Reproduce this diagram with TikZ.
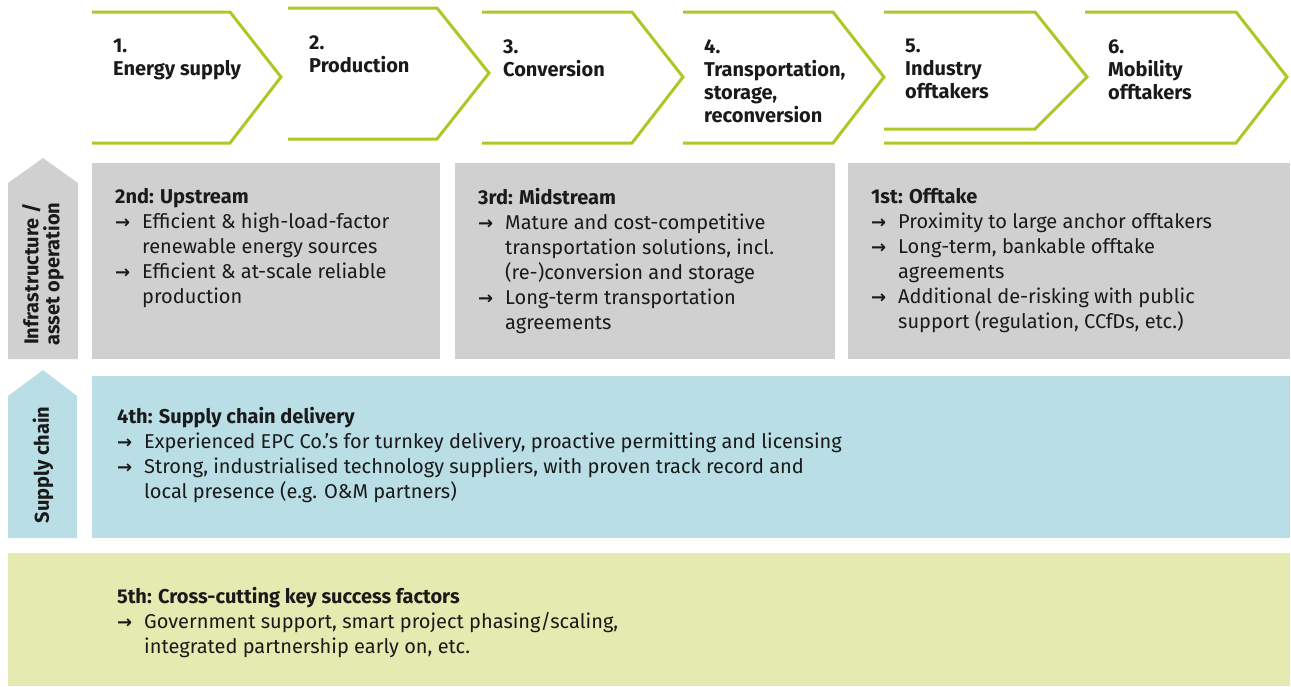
\documentclass[tikz,border=0pt]{standalone}
\usepackage{fontspec}
\setmainfont{Fira Sans}
\newfontfamily\arrowfont{DejaVu Sans}
\usepackage{tikz}
\definecolor{lime}{RGB}{172,200,38}
\definecolor{lightgrey}{RGB}{208,208,208}
\definecolor{lightblue}{RGB}{185,222,230}
\definecolor{palegreen}{RGB}{229,235,176}
\definecolor{ink}{RGB}{26,26,26}
\usetikzlibrary{positioning}
\tikzstyle{chevron} = [draw=lime, line width=3pt, line join=miter]
\tikzstyle{stage} = [anchor=north west, align=left, inner sep=0pt, text=ink, font=\bfseries\fontsize{20}{23}\selectfont]
\tikzstyle{block} = [rectangle, anchor=north west, inner sep=0pt, outer sep=0pt]
\tikzstyle{body} = [anchor=north west, align=left, inner sep=0pt, text=ink, font=\fontsize{20}{25}\selectfont]
\tikzstyle{side} = [rotate=90, align=center, inner sep=0pt, text=ink, font=\bfseries\fontsize{20}{21}\selectfont]
\newcommand{\arr}{\makebox[27pt][l]{\arrowfont\bfseries\fontsize{18}{18}\selectfont →}}
\newcommand{\ind}{\hspace*{27pt}}

\begin{document}
\begin{tikzpicture}[x=1pt, y=-1pt]
    \useasboundingbox (0,0) rectangle (1291,686);

    % Value chain steps
    \draw [chevron] (92,12) -- (230,12) -- (281,77) -- (230,143) -- (92,143);
    \draw [chevron] (288,8) -- (437,8) -- (489,73) -- (437,139) -- (288,139);
    \draw [chevron] (482,12) -- (632,12) -- (683,77) -- (632,143) -- (482,143);
    \draw [chevron] (683,12) -- (833,12) -- (884,77) -- (833,143) -- (683,143);
    \draw [chevron] (884,12) -- (1035,12) -- (1087,77) -- (1035,129) -- (884,129);
    \draw [chevron] (1085,12) -- (1236,12) -- (1287,77) -- (1236,143) -- (884,143);

    \node [stage] (energy) at (113,39) {1.\\Energy supply};
    \node [stage] (production) at (309,35) {2.\\Production};
    \node [stage] (conversion) at (503,39) {3.\\Conversion};
    \node [stage] (transport) at (704,39) {4.\\Transportation,\\storage,\\reconversion};
    \node [stage] (industry) at (905,39) {5.\\Industry\\offtakers};
    \node [stage] (mobility) at (1108,39) {6.\\Mobility\\offtakers};

    % Side tabs
    \fill [lightgrey] (8,359) -- (8,183) -- (43,158) -- (78,183) -- (78,359) -- cycle;
    \fill [lightblue] (8,538) -- (8,396) -- (43,370) -- (77,396) -- (77,538) -- cycle;
    \node [side] (infra) at (43,274) {Infrastructure /\\asset operation};
    \node [side] (chain) at (43,465) {Supply chain};

    % Place the blocks
    \node [block, fill=lightgrey, minimum width=348, minimum height=196] (upstream) at (92,163) {};
    \node [block, fill=lightgrey, minimum width=380, minimum height=196] (midstream) at (455,163) {};
    \node [block, fill=lightgrey, minimum width=442, minimum height=196] (offtake) at (848,163) {};
    \node [block, fill=lightblue, minimum width=1198, minimum height=162] (delivery) at (92,376) {};
    \node [block, fill=palegreen, minimum width=1282, minimum height=133] (factors) at (8,553) {};

    % Fill in the texts
    \node [body] (upstreamtxt) at (115,188) {\textbf{2nd: Upstream}\\
        \arr Efficient \& high-load-factor\\
        \ind renewable energy sources\\
        \arr Efficient \& at-scale reliable\\
        \ind production};
    \node [body] (midstreamtxt) at (478,188) {\textbf{3rd: Midstream}\\
        \arr Mature and cost-competitive\\
        \ind transportation solutions, incl.\\
        \ind (re-)conversion and storage\\
        \arr Long-term transportation\\
        \ind agreements};
    \node [body] (offtaketxt) at (871,188) {\textbf{1st: Offtake}\\
        \arr Proximity to large anchor offtakers\\
        \arr Long-term, bankable offtake\\
        \ind agreements\\
        \arr Additional de-risking with public\\
        \ind support (regulation, CCfDs, etc.)};
    \node [body] (deliverytxt) at (117,407) {\textbf{4th: Supply chain delivery}\\
        \arr Experienced EPC Co.’s for turnkey delivery, proactive permitting and licensing\\
        \arr Strong, industrialised technology suppliers, with proven track record and\\
        \ind local presence (e.g. O\&M partners)};
    \node [body] (factorstxt) at (117,587) {\textbf{5th: Cross-cutting key success factors}\\
        \arr Government support, smart project phasing/scaling,\\
        \ind integrated partnership early on, etc.};
\end{tikzpicture}
\end{document}
